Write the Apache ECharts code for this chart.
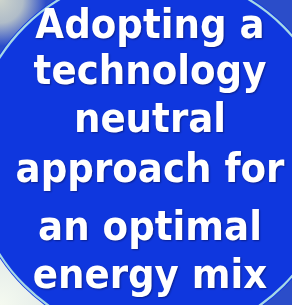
<!DOCTYPE html>
<html>
<head>
<meta charset="utf-8">
<script src="https://cdn.jsdelivr.net/npm/echarts@6/dist/echarts.min.js"></script>
<style>html,body{margin:0;padding:0;background:#2a4cc8;}#c{width:292px;height:305px;}</style>
</head>
<body>
<div id="c"></div>
<script>
var textLines = ['Adopting a', 'technology', 'neutral', 'approach for', 'an optimal', 'energy mix'];
var lineBaselines = [41, 87, 135, 185, 243, 291];

var chart = echarts.init(document.getElementById('c'), null, {renderer: 'canvas'});
var FS = 40;
var elements = [
  {type: 'rect', shape: {x: 0, y: 0, width: 292, height: 305}, style: {fill: '#2b4dc9'}, z: 0},
  {type: 'circle', shape: {cx: 0, cy: 0, r: 46}, style: {fill: {type: 'radial', x: 0.5, y: 0.5, r: 0.5, colorStops: [{offset: 0, color: 'rgba(205,212,205,1)'}, {offset: 0.5, color: 'rgba(190,200,200,0.9)'}, {offset: 1, color: 'rgba(190,200,200,0)'}]}}, z: 1},
  {type: 'circle', shape: {cx: 0, cy: 305, r: 75}, style: {fill: {type: 'radial', x: 0.5, y: 0.5, r: 0.5, colorStops: [{offset: 0, color: 'rgba(245,250,240,1)'}, {offset: 0.6, color: 'rgba(240,246,236,0.95)'}, {offset: 1, color: 'rgba(240,246,236,0)'}]}}, z: 1},
  {type: 'circle', shape: {cx: 154, cy: 156, r: 185}, style: {fill: '#0f37de'}, z: 2},
  {type: 'circle', shape: {cx: 154, cy: 156, r: 183}, style: {fill: 'none', stroke: '#a6d8e6', lineWidth: 2.2}, z: 3}
];
textLines.forEach(function (t, i) {
  elements.push({
    type: 'text', z: 10,
    x: 150, y: lineBaselines[i] - 0.346 * FS,
    scaleX: 0.93,
    style: {
      text: t, fill: '#ffffff',
      font: 'bold ' + FS + 'px "DejaVu Sans"',
      align: 'center', verticalAlign: 'middle',
      textShadowColor: 'rgba(0,0,40,0.45)', textShadowBlur: 2, textShadowOffsetX: 1, textShadowOffsetY: 1
    }
  });
});
chart.setOption({
  animation: false,
  graphic: {elements: elements}
});
</script>
</body>
</html>
